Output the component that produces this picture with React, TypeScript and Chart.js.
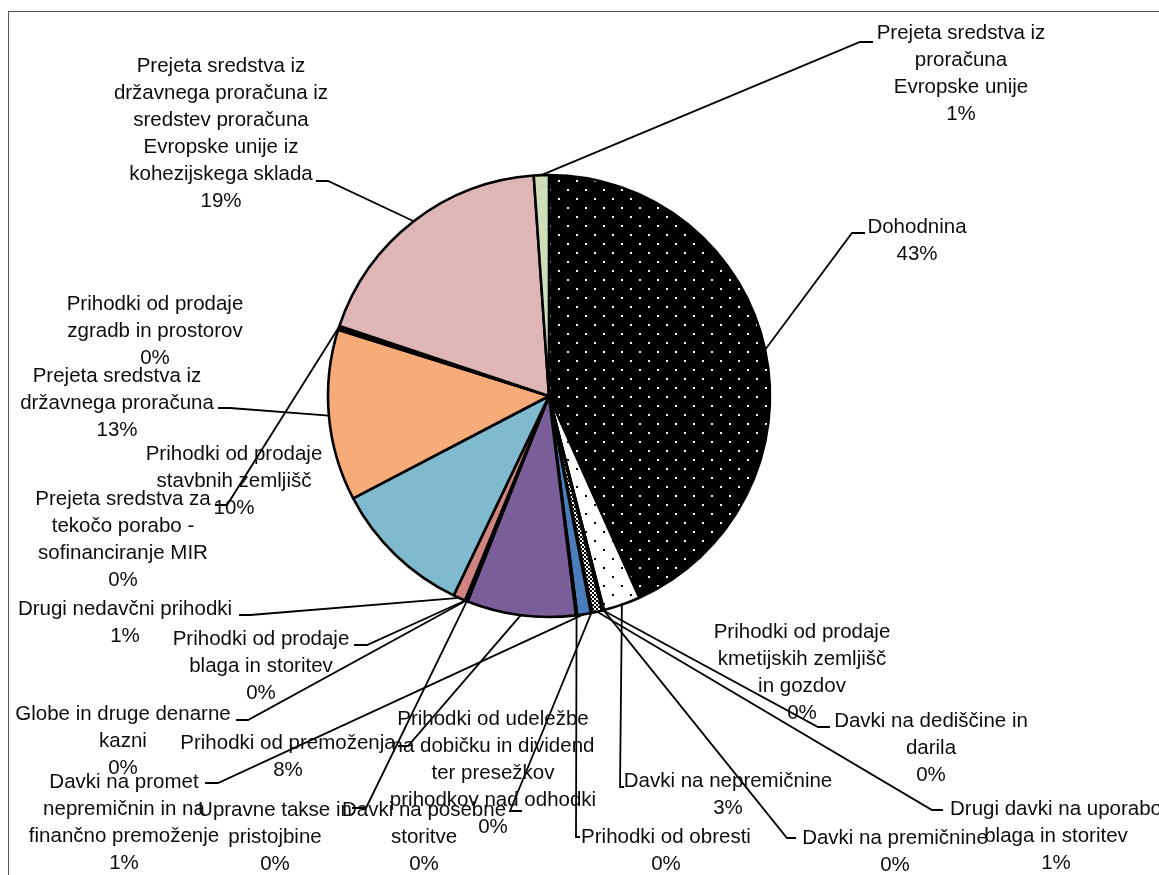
import React, { useEffect, useRef } from 'react';
import { Chart, registerables } from 'chart.js';

Chart.register(...registerables);

// Revenue categories, clockwise from 12 o'clock ("\n" marks where a label wraps)
const categories: string[] = [
  'Dohodnina',
  'Davki na nepremičnine',
  'Davki na premičnine',
  'Davki na dediščine in\ndarila',
  'Prihodki od prodaje\nkmetijskih zemljišč\nin gozdov',
  'Drugi davki na uporabo\nblaga in storitev',
  'Prihodki od udeležbe\nna dobičku in dividend\nter presežkov\nprihodkov nad odhodki',
  'Davki na posebne\nstoritve',
  'Davki na promet\nnepremičnin in na\nfinančno premoženje',
  'Prihodki od obresti',
  'Prihodki od premoženja',
  'Upravne takse in\npristojbine',
  'Globe in druge denarne\nkazni',
  'Prihodki od prodaje\nblaga in storitev',
  'Drugi nedavčni prihodki',
  'Prihodki od prodaje\nstavbnih zemljišč',
  'Prejeta sredstva iz\ndržavnega proračuna',
  'Prihodki od prodaje\nzgradb in prostorov',
  'Prejeta sredstva za\ntekočo porabo -\nsofinanciranje MIR',
  'Prejeta sredstva iz\ndržavnega proračuna iz\nsredstev proračuna\nEvropske unije iz\nkohezijskega sklada',
  'Prejeta sredstva iz\nproračuna\nEvropske unije',
];

// Share of total revenue, in percent
const shares: number[] = [
  43.3, 2.7, 0.05, 0.06, 0.03, 0.72, 0.04, 0.06, 1.0, 0.1, 7.95,
  0.1, 0.05, 0.05, 0.89, 10.23, 12.52, 0.14, 0.15, 18.76, 1.1,
];

// Slice fills: hex colours or one of the named hatch patterns
const sliceFills: string[] = [
  'dotsOnBlack', 'dotsOnWhite', 'checker', 'checker', 'checker', 'checker',
  'checker', 'checker', '#4A7DBA', '#2C4D75', '#7A5E99', '#3B2F4F',
  '#5A3030', '#8A4A48', '#CF8480', '#7FBACF', '#F7AB78', '#6A4A2F',
  '#4A3A3A', '#DEB6B6', '#D0DEB8',
];

type LabelPlace = { x: number; y: number; leader?: number[][] };

// Where each data label sits (centre x, first baseline y) and the
// label-side points of its leader line; the line then runs to its slice.
const labelPlaces: LabelPlace[] = [
  { x: 917, y: 233, leader: [[865, 233], [852, 233]] },
  { x: 728, y: 787, leader: [[624, 787], [620, 787]] },
  { x: 895, y: 844, leader: [[796, 838], [787, 838]] },
  { x: 931, y: 727, leader: [[830, 727], [818, 727]] },
  { x: 802, y: 638 },
  { x: 1056, y: 815, leader: [[943, 810], [932, 810]] },
  { x: 493, y: 725 },
  { x: 424, y: 816, leader: [[522, 811], [510, 811]] },
  { x: 124, y: 788, leader: [[205, 783], [218, 783]] },
  { x: 666, y: 843, leader: [[580, 837], [576, 837]] },
  { x: 288, y: 749, leader: [[398, 746], [408, 746]] },
  { x: 275, y: 816, leader: [[352, 808], [366, 808]] },
  { x: 123, y: 720, leader: [[236, 720], [248, 720]] },
  { x: 261, y: 645, leader: [[354, 645], [367, 645]] },
  { x: 125, y: 615, leader: [[239, 615], [250, 615]] },
  { x: 234, y: 460 },
  { x: 117, y: 382, leader: [[218, 408], [230, 408]] },
  { x: 155, y: 310 },
  { x: 123, y: 505, leader: [[215, 505], [227, 505]] },
  { x: 221, y: 72, leader: [[316, 181], [328, 181]] },
  { x: 961, y: 39, leader: [[873, 42], [860, 42]] },
];

const PIE_RADIUS = 221;
const LINE_HEIGHT = 27;
const LABEL_FONT = '20.5px "Liberation Sans", Arial, sans-serif';

function makePattern(ctx: CanvasRenderingContext2D, kind: string): CanvasPattern | string {
  const tile = document.createElement('canvas');
  const g = tile.getContext('2d') as CanvasRenderingContext2D;
  if (kind === 'checker') {
    tile.width = 4;
    tile.height = 4;
    g.fillStyle = '#ffffff';
    g.fillRect(0, 0, 4, 4);
    g.fillStyle = '#000000';
    g.fillRect(0, 0, 2, 2);
    g.fillRect(2, 2, 2, 2);
  } else {
    const dark = kind === 'dotsOnBlack';
    tile.width = 18;
    tile.height = 18;
    g.fillStyle = dark ? '#000000' : '#ffffff';
    g.fillRect(0, 0, 18, 18);
    g.fillStyle = dark ? '#ffffff' : '#000000';
    g.fillRect(0, 0, 2, 2);
    g.fillRect(9, 9, 2, 2);
  }
  return ctx.createPattern(tile, 'repeat') || '#000000';
}

const framePlugin = {
  id: 'chartFrame',
  beforeDraw(chart: any) {
    const ctx: CanvasRenderingContext2D = chart.ctx;
    ctx.save();
    ctx.fillStyle = '#ffffff';
    ctx.fillRect(0, 0, chart.width, chart.height);
    ctx.strokeStyle = '#555555';
    ctx.lineWidth = 1;
    ctx.strokeRect(8.5, 11.5, chart.width + 20, chart.height + 20);
    ctx.restore();
  },
};

const labelPlugin = {
  id: 'sliceLabels',
  afterDatasetsDraw(chart: any) {
    const ctx: CanvasRenderingContext2D = chart.ctx;
    const meta = chart.getDatasetMeta(0);
    const values: number[] = chart.data.datasets[0].data;
    const total = values.reduce((a, b) => a + b, 0);
    ctx.save();

    ctx.strokeStyle = '#000000';
    ctx.lineWidth = 1.8;
    ctx.lineJoin = 'miter';
    meta.data.forEach((arc: any, i: number) => {
      const place = labelPlaces[i];
      if (!place || !place.leader) return;
      const mid = (arc.startAngle + arc.endAngle) / 2;
      const px = arc.x + Math.cos(mid) * arc.outerRadius;
      const py = arc.y + Math.sin(mid) * arc.outerRadius;
      ctx.beginPath();
      ctx.moveTo(place.leader[0][0], place.leader[0][1]);
      for (let k = 1; k < place.leader.length; k++) {
        ctx.lineTo(place.leader[k][0], place.leader[k][1]);
      }
      ctx.lineTo(px, py);
      ctx.stroke();
    });

    ctx.font = LABEL_FONT;
    ctx.fillStyle = '#0d0d0d';
    ctx.textAlign = 'center';
    ctx.textBaseline = 'alphabetic';
    meta.data.forEach((_arc: any, i: number) => {
      const place = labelPlaces[i];
      if (!place) return;
      const pct = Math.round((values[i] / total) * 100) + '%';
      const lines = String(chart.data.labels[i]).split('\n').concat(pct);
      lines.forEach((t: string, k: number) => {
        ctx.fillText(t, place.x, place.y + k * LINE_HEIGHT);
      });
    });
    ctx.restore();
  },
};

export default function App() {
  const canvasRef = useRef<HTMLCanvasElement | null>(null);

  useEffect(() => {
    const canvas = canvasRef.current;
    if (!canvas) return;
    const ctx = canvas.getContext('2d') as CanvasRenderingContext2D;
    const fills = sliceFills.map((f) => (f.startsWith('#') ? f : makePattern(ctx, f)));

    const chart = new Chart(canvas, {
      type: 'pie',
      data: {
        labels: categories,
        datasets: [
          {
            data: shares,
            backgroundColor: fills as any,
            borderColor: '#000000',
            borderWidth: 2.6,
            radius: PIE_RADIUS,
          } as any,
        ],
      },
      options: {
        responsive: false,
        animation: false,
        events: [],
        layout: { padding: { left: 0, right: 61, top: 0, bottom: 83 } },
        plugins: {
          legend: { display: false },
          tooltip: { enabled: false },
        },
      },
      plugins: [framePlugin, labelPlugin],
    });

    return () => chart.destroy();
  }, []);

  return (
    <div style={{ position: 'fixed', left: 0, top: 0, width: 1159, height: 875, background: '#fff' }}>
      <canvas ref={canvasRef} width={1159} height={875} style={{ display: 'block' }} />
    </div>
  );
}
